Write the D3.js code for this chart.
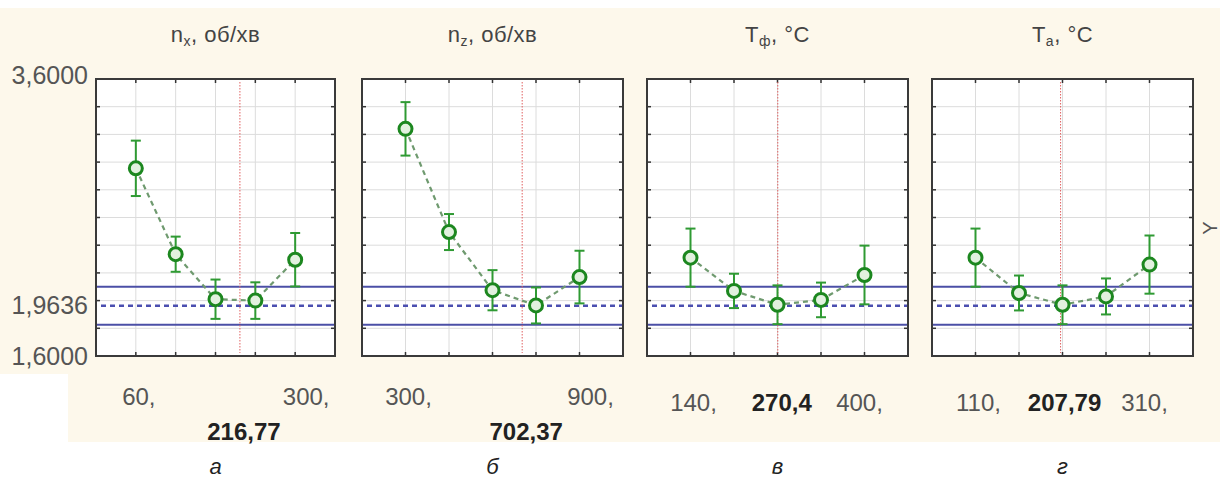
<!DOCTYPE html>
<html><head><meta charset="utf-8">
<script src="https://cdn.jsdelivr.net/npm/d3@7/dist/d3.min.js"></script>
<style>
html,body{margin:0;padding:0;background:#fff;}
svg{display:block;font-family:"Liberation Sans",Arial,sans-serif;}
</style></head>
<body><svg id="c" width="1220" height="483"></svg>
<script>
// ---- data ----
const titleMain = ["n", "n", "T", "T"];
const titleSub = ["x", "z", "ф", "a"];
const titleUnit = [", об/хв", ", об/хв", ", °C", ", °C"];
const xLevels1 = [60, 120, 180, 240, 300];
const xLevels2 = [300, 450, 600, 750, 900];
const xLevels3 = [140, 205, 270, 335, 400];
const xLevels4 = [110, 160, 210, 260, 310];
const means1 = [2.955, 2.335, 2.01, 2.0, 2.295];
const means2 = [3.24, 2.495, 2.075, 1.965, 2.17];
const means3 = [2.31, 2.07, 1.97, 2.005, 2.185];
const means4 = [2.31, 2.055, 1.97, 2.03, 2.26];
const errs1 = [0.2, 0.127, 0.142, 0.132, 0.193];
const errs2 = [0.193, 0.13, 0.145, 0.13, 0.19];
const errs3 = [0.21, 0.124, 0.14, 0.125, 0.212];
const errs4 = [0.21, 0.126, 0.14, 0.13, 0.21];
const optimum = [216.77, 702.37, 270.4, 207.79];
const optimumLabels = ["216,77", "702,37", "270,4", "207,79"];
const endLabels = [["60,", "300,"], ["300,", "900,"], ["140,", "400,"], ["110,", "310,"]];
const panelLetters = ["а", "б", "в", "г"];
const yTickLabels = ["3,6000", "1,9636", "1,6000"];
const yTickValues = [3.6, 1.9636, 1.6];
const yDomain = [1.6, 3.6];
const refMean = 1.9636;
const refUpper = 2.10;
const refLower = 1.825;

const xLevels = [xLevels1, xLevels2, xLevels3, xLevels4];
const means = [means1, means2, means3, means4];
const errs = [errs1, errs2, errs3, errs4];

// ---- layout ----
const svg = d3.select("#c");
const lefts = [96, 362, 647, 932];
const widths = [239, 261, 261, 261];
const topY = 79, bottomY = 356;
const green = "#1c871f";
const barGreen = "#2f9a33";

// backgrounds
svg.append("rect").attr("x", 0).attr("y", 8).attr("width", 1220).attr("height", 366).attr("fill", "#fdf8eb");
svg.append("rect").attr("x", 68).attr("y", 374).attr("width", 1152).attr("height", 68).attr("fill", "#fdf8eb");

const y = d3.scaleLinear().domain(yDomain).range([bottomY, topY]);
const yGrid = d3.range(1.6, 3.6001, 0.2);

for (let p = 0; p < 4; p++) {
  const L = lefts[p], W = widths[p];
  const lv = xLevels[p];
  const step = lv[1] - lv[0];
  const x = d3.scaleLinear().domain([lv[0] - step, lv[4] + step]).range([L, L + W]);
  const g = svg.append("g");
  g.append("rect").attr("x", L).attr("y", topY).attr("width", W).attr("height", bottomY - topY).attr("fill", "#fff");
  // grid
  g.selectAll(".hg").data(yGrid).enter().append("line")
    .attr("x1", L).attr("x2", L + W).attr("y1", d => y(d)).attr("y2", d => y(d))
    .attr("stroke", "#dcdcdc").attr("stroke-width", 1);
  g.selectAll(".vg").data(lv).enter().append("line")
    .attr("x1", d => x(d)).attr("x2", d => x(d)).attr("y1", topY).attr("y2", bottomY)
    .attr("stroke", "#dcdcdc").attr("stroke-width", 1);
  // ticks inside frame
  const ax = g.append("g").attr("fill", "none").attr("stroke", "#333").attr("stroke-width", 1.5);
  lv.forEach(v => {
    ax.append("line").attr("x1", x(v)).attr("x2", x(v)).attr("y1", topY).attr("y2", topY + 4);
    ax.append("line").attr("x1", x(v)).attr("x2", x(v)).attr("y1", bottomY).attr("y2", bottomY - 4);
  });
  yGrid.forEach(v => {
    ax.append("line").attr("x1", L).attr("x2", L + 4).attr("y1", y(v)).attr("y2", y(v));
    ax.append("line").attr("x1", L + W).attr("x2", L + W - 4).attr("y1", y(v)).attr("y2", y(v));
  });
  // reference lines
  [refUpper, refLower].forEach(v => {
    g.append("line").attr("x1", L).attr("x2", L + W).attr("y1", y(v)).attr("y2", y(v))
      .attr("stroke", "#4b4fa6").attr("stroke-width", 2);
  });
  g.append("line").attr("x1", L + 5).attr("x2", L + W).attr("y1", y(refMean)).attr("y2", y(refMean))
    .attr("stroke", "#4b4fb0").attr("stroke-width", 2.5).attr("stroke-dasharray", "5,4");
  // optimum line
  g.append("line").attr("x1", x(optimum[p])).attr("x2", x(optimum[p])).attr("y1", topY + 3).attr("y2", bottomY - 3)
    .attr("stroke", "#e06060").attr("stroke-width", 1).attr("stroke-dasharray", "1.5,1.5");
  // connecting line
  const pts = lv.map((v, i) => [x(v), y(means[p][i])]);
  g.append("path").attr("d", d3.line()(pts)).attr("fill", "none")
    .attr("stroke", "#6f9a6f").attr("stroke-width", 2.2).attr("stroke-dasharray", "5,4");
  // error bars
  lv.forEach((v, i) => {
    const cx = x(v), m = means[p][i], e = errs[p][i];
    g.append("line").attr("x1", cx).attr("x2", cx).attr("y1", y(m + e)).attr("y2", y(m - e))
      .attr("stroke", barGreen).attr("stroke-width", 2);
    [m + e, m - e].forEach(t => g.append("line").attr("x1", cx - 5).attr("x2", cx + 5)
      .attr("y1", y(t)).attr("y2", y(t)).attr("stroke", barGreen).attr("stroke-width", 2));
    g.append("circle").attr("cx", cx).attr("cy", y(m)).attr("r", 6.5)
      .attr("fill", "#e2f1df").attr("stroke", green).attr("stroke-width", 3);
  });
  // frame
  g.append("rect").attr("x", L).attr("y", topY).attr("width", W).attr("height", bottomY - topY)
    .attr("fill", "none").attr("stroke", "#3a3a3a").attr("stroke-width", 2);
  // title
  const t = g.append("text").attr("x", L + W / 2).attr("y", 42).attr("text-anchor", "middle")
    .attr("font-size", 22).attr("fill", "#444").attr("letter-spacing", 0.5);
  t.append("tspan").text(titleMain[p]);
  t.append("tspan").attr("font-size", 14).attr("dy", 4).text(titleSub[p]);
  t.append("tspan").attr("dy", -4).text(titleUnit[p]);
  // bottom labels
  const twoRow = p < 2;
  const r1 = twoRow ? 405 : 411;
  const r2 = twoRow ? 440 : 411;
  g.append("text").attr("x", x(lv[0]) + 3).attr("y", r1).attr("text-anchor", "middle")
    .attr("font-size", 24).attr("fill", "#555").text(endLabels[p][0]);
  g.append("text").attr("x", x(lv[4]) + (twoRow ? 11 : -5)).attr("y", r1).attr("text-anchor", "middle")
    .attr("font-size", 24).attr("fill", "#555").text(endLabels[p][1]);
  g.append("text").attr("x", x(optimum[p]) + 4).attr("y", r2).attr("text-anchor", "middle")
    .attr("font-size", 24).attr("font-weight", "bold").attr("fill", "#222").text(optimumLabels[p]);
  // panel letter
  g.append("text").attr("x", L + W / 2).attr("y", 474).attr("text-anchor", "middle")
    .attr("font-size", 22).attr("font-style", "italic").attr("fill", "#222").text(panelLetters[p]);
}

// y tick labels
yTickValues.forEach((v, i) => {
  svg.append("text").attr("x", 88).attr("y", y(v) + (i === 0 ? -4 : 0)).attr("dy", "0.35em")
    .attr("text-anchor", "end").attr("font-size", 25).attr("fill", "#555").text(yTickLabels[i]);
});
// y axis title at right edge
svg.append("text").attr("transform", "translate(1217,228) rotate(-90)").attr("text-anchor", "middle")
  .attr("font-size", 20).attr("fill", "#555").text("Y");
</script></body></html>
